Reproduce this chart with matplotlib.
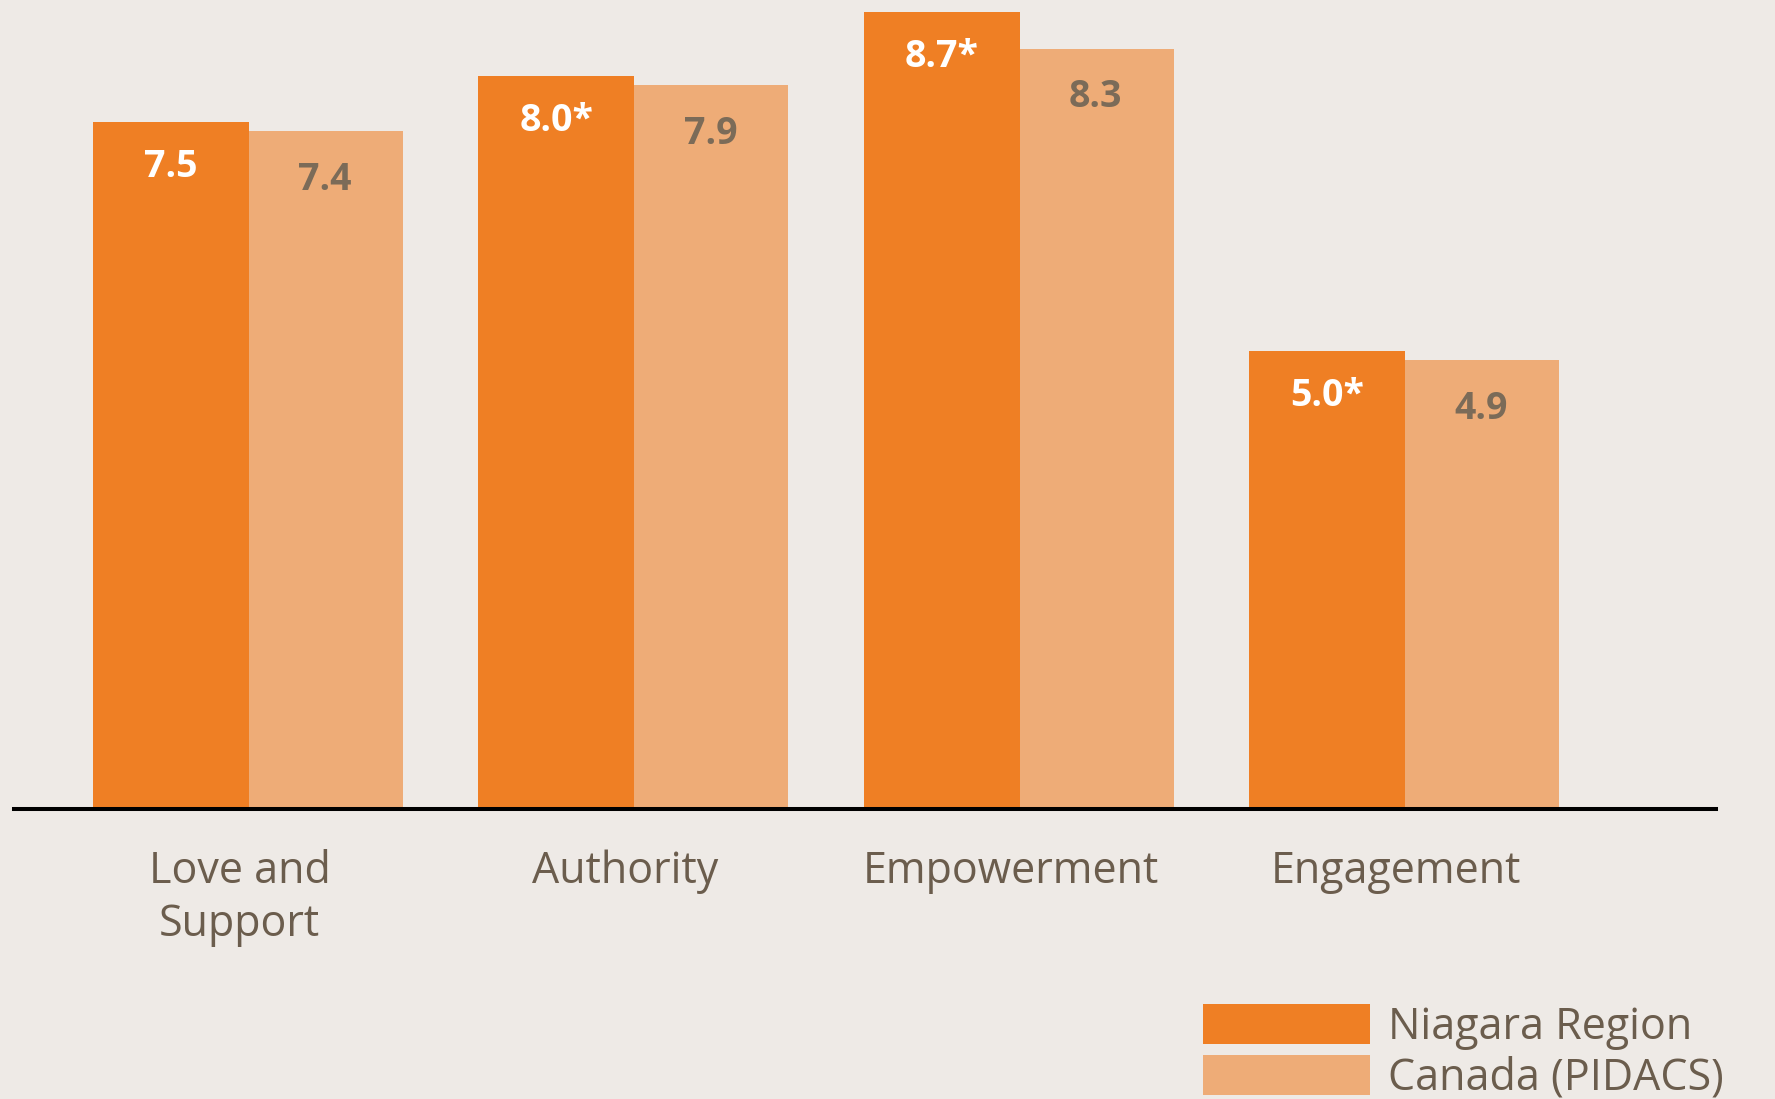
import matplotlib
matplotlib.use("Agg")
import matplotlib.pyplot as plt
import matplotlib.transforms as mtransforms
import numpy as np

plt.rcParams.update({
    "font.family": ["Open Sans", "DejaVu Sans"],
    "figure.dpi": 100, "savefig.dpi": 100,
})

BG = "#EEEAE6"
ORANGE = "#EF7F24"
PEACH = "#EEAC77"
TEXT = "#6B5D4D"
DARK_VAL = "#7B6B58"

categories = ["Love and\nSupport", "Authority", "Empowerment", "Engagement"]
niagara = [7.5, 8.0, 8.7, 5.0]
canada = [7.4, 7.9, 8.3, 4.9]
niagara_labels = ["7.5", "8.0*", "8.7*", "5.0*"]
canada_labels = ["7.4", "7.9", "8.3", "4.9"]
series_names = ["Niagara Region", "Canada (PIDACS)"]

fig = plt.figure(figsize=(17.75, 10.99), facecolor=BG)
ax = fig.add_axes([0.0077, 0.2639, 0.9591, 0.7361])
ax.set_facecolor(BG)

x = np.arange(len(categories))
w = 0.405
b1 = ax.bar(x - 0.2, niagara, w, color=ORANGE, label=series_names[0], zorder=2)
b2 = ax.bar(x + 0.2, canada, w, color=PEACH, label=series_names[1], zorder=1)

for b, t in zip(b1, niagara_labels):
    ax.text(b.get_x() + b.get_width() / 2, b.get_height() - 0.49, t,
            ha="center", va="center", color="white", fontsize=27, fontweight="bold")
for b, t in zip(b2, canada_labels):
    ax.text(b.get_x() + b.get_width() / 2, b.get_height() - 0.53, t,
            ha="center", va="center", color=DARK_VAL, fontsize=27, fontweight="bold")

ax.set_xlim(-0.607, 3.809)
ax.set_ylim(0, 8.83)
for s in ("top", "left", "right"):
    ax.spines[s].set_visible(False)
ax.spines["bottom"].set_linewidth(2.9)
ax.spines["bottom"].set_color("black")
ax.set_yticks([])
ax.set_xticks(x)
ax.set_xticklabels(categories, fontsize=31, color=TEXT, linespacing=1.27)
ax.tick_params(axis="x", length=0, pad=29)
# nudge category labels a touch to the left
shift = mtransforms.ScaledTranslation(-8 / 100, 0, fig.dpi_scale_trans)
for lbl in ax.get_xticklabels():
    lbl.set_transform(lbl.get_transform() + shift)

fig.legend(handles=[b1, b2], labels=series_names, loc="upper left",
           bbox_to_anchor=(0.678, 0.086), frameon=False, fontsize=31,
           handlelength=3.86, handleheight=1.05, labelspacing=0.12,
           handletextpad=0.42, borderpad=0, borderaxespad=0, labelcolor=TEXT)

fig.savefig("out.png", facecolor=BG)
